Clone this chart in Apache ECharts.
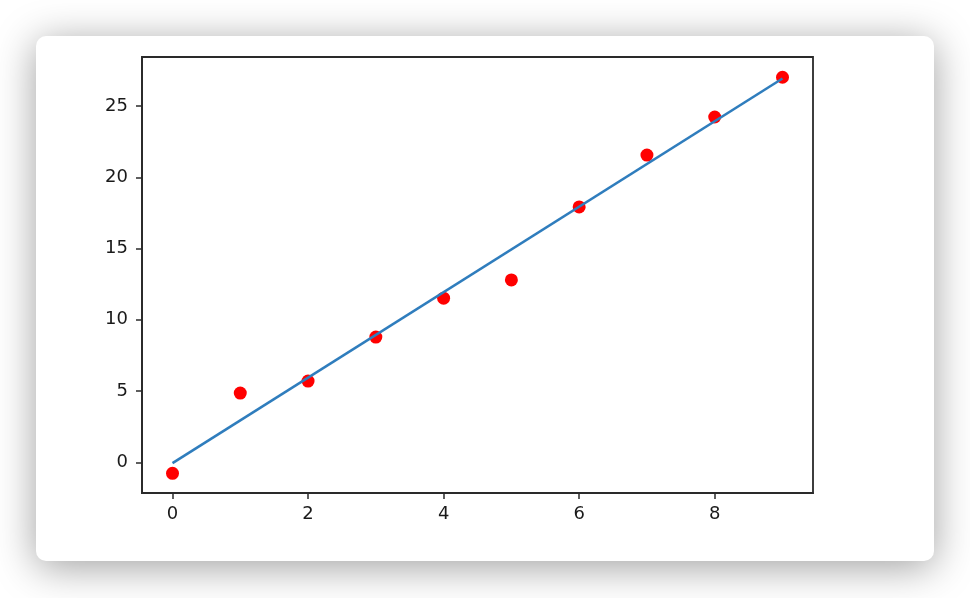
<!DOCTYPE html>
<html>
<head>
<meta charset="utf-8">
<script src="https://cdn.jsdelivr.net/npm/echarts@6/dist/echarts.min.js"></script>
<style>
html,body{margin:0;padding:0;background:#ffffff;}
#chart{width:970px;height:598px;}
</style>
</head>
<body>
<div id="chart"></div>
<script>
var pointX = [0, 1, 2, 3, 4, 5, 6, 7, 8, 9];
var pointY = [-0.77, 4.86, 5.70, 8.79, 11.52, 12.80, 17.92, 21.56, 24.23, 27.02];
var lineX = [0, 9];
var lineY = [-0.05, 26.93];
var xTicks = [0, 2, 4, 6, 8];
var yTicks = [0, 5, 10, 15, 20, 25];

var chart = echarts.init(document.getElementById('chart'), null, {renderer: 'canvas'});
var labelStyle = {color: '#1a1a1a', fontSize: 18, fontFamily: 'DejaVu Sans'};
chart.setOption({
  backgroundColor: '#ffffff',
  animation: false,
  graphic: [{
    type: 'rect',
    z: -10,
    silent: true,
    shape: {x: 36, y: 36, width: 898, height: 525, r: 10},
    style: {fill: '#ffffff', shadowBlur: 40, shadowColor: 'rgba(0,0,0,0.38)', shadowOffsetY: 6}
  }],
  grid: {
    left: 142, right: 157, top: 57, bottom: 105,
    show: true, borderColor: '#2a2a2a', borderWidth: 1.8, backgroundColor: 'transparent'
  },
  xAxis: {
    type: 'value', min: -0.45, max: 9.45,
    splitLine: {show: false},
    axisLine: {show: true, onZero: false, lineStyle: {color: '#2a2a2a', width: 1.8}},
    axisTick: {show: true, length: 6, customValues: xTicks, lineStyle: {color: '#2a2a2a', width: 1.5}},
    axisLabel: Object.assign({margin: 12, customValues: xTicks}, labelStyle)
  },
  yAxis: {
    type: 'value', min: -2.15, max: 28.44,
    splitLine: {show: false},
    axisLine: {show: true, onZero: false, lineStyle: {color: '#2a2a2a', width: 1.8}},
    axisTick: {show: true, length: 6, customValues: yTicks, lineStyle: {color: '#2a2a2a', width: 1.5}},
    axisLabel: Object.assign({margin: 14, customValues: yTicks}, labelStyle)
  },
  series: [{
    type: 'scatter',
    data: pointX.map(function (x, i) { return [x, pointY[i]]; }),
    symbolSize: 13,
    itemStyle: {color: '#ff0000', opacity: 1},
    z: 2
  }, {
    type: 'line',
    data: lineX.map(function (x, i) { return [x, lineY[i]]; }),
    showSymbol: false,
    symbol: 'none',
    lineStyle: {color: '#2f7dbd', width: 2.6},
    z: 3
  }]
});
</script>
</body>
</html>
